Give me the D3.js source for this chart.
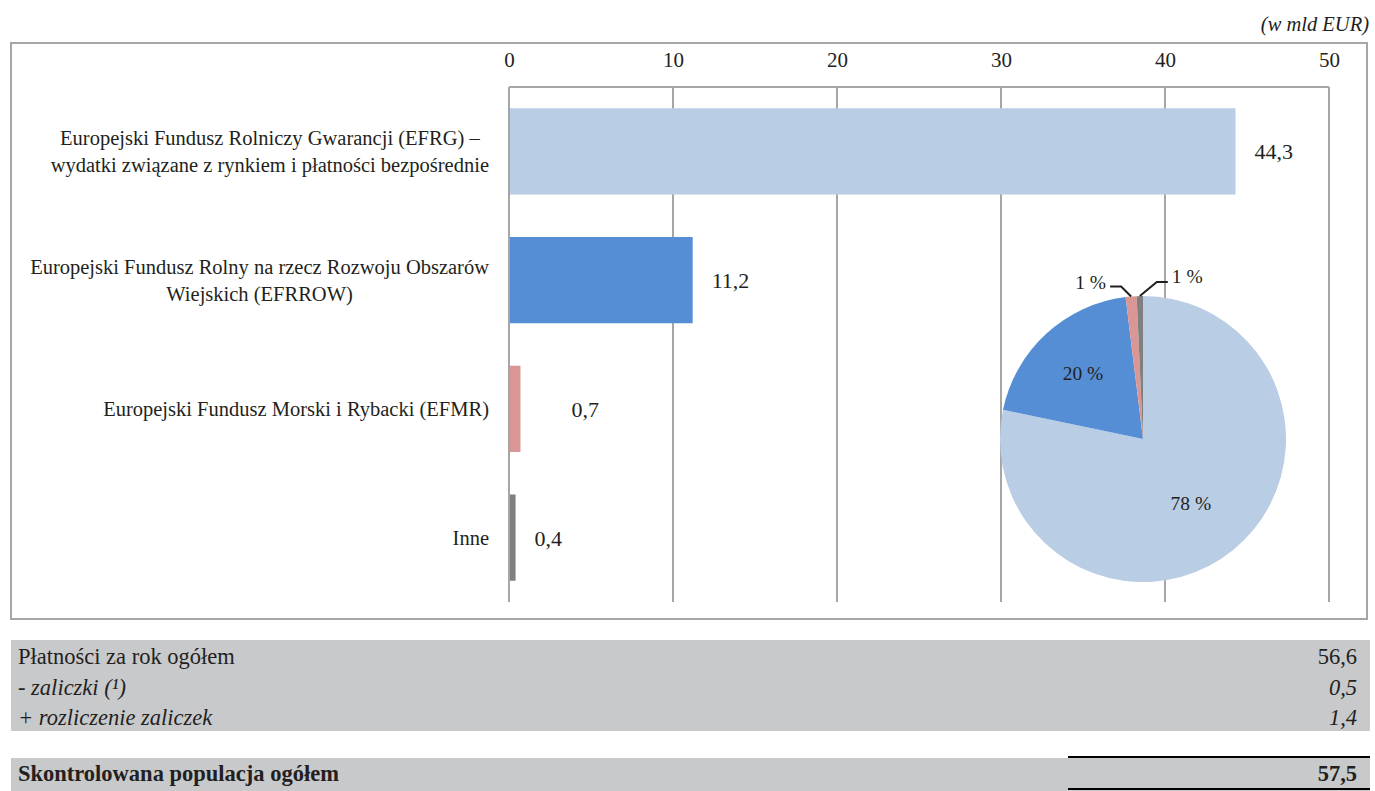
<!DOCTYPE html>
<html>
<head>
<meta charset="utf-8">
<script src="https://cdn.jsdelivr.net/npm/d3@7"></script>
<style>
  body { margin: 0; background: #fff; }
  svg text { font-family: "Liberation Serif", "DejaVu Serif", serif; fill: #231f20; }
</style>
</head>
<body>
<svg id="chart" width="1375" height="791"></svg>
<script>
// data
let categories = [
  ["Europejski Fundusz Rolniczy Gwarancji (EFRG) –", "wydatki związane z rynkiem i płatności bezpośrednie"],
  ["Europejski Fundusz Rolny na rzecz Rozwoju Obszarów", "Wiejskich (EFRROW)"],
  ["Europejski Fundusz Morski i Rybacki (EFMR)"],
  ["Inne"]
];
let values = [44.3, 11.2, 0.7, 0.4];
let pieLabels = ["78 %", "20 %", "1 %", "1 %"];
let xTicks = [0, 10, 20, 30, 40, 50];
let unitLabel = "(w mld EUR)";
let tableRows = ["Płatności za rok ogółem", "- zaliczki (¹)", "+ rozliczenie zaliczek"];
let tableValues = ["56,6", "0,5", "1,4"];
let totalLabel = "Skontrolowana populacja ogółem";
let totalValue = "57,5";

let colors = ["#b9cde5", "#558ed5", "#d99694", "#7f7f7f"];
let svg = d3.select("#chart");
let fmt = d => d3.format(".1f")(d).replace(".", ",");

// outer frame
svg.append("rect")
  .attr("x", 11).attr("y", 43).attr("width", 1356).attr("height", 576)
  .attr("fill", "none").attr("stroke", "#a6a6a6").attr("stroke-width", 2);

svg.append("text")
  .attr("x", 1369).attr("y", 31)
  .attr("text-anchor", "end")
  .attr("font-style", "italic")
  .attr("font-size", 20.5)
  .text(unitLabel);

let xScale = d3.scaleLinear().domain([0, 50]).range([509, 1329]);
let yScale = d3.scaleBand().domain(d3.range(values.length)).range([87, 602]).paddingInner(0.33).paddingOuter(0.165);

// grid
svg.selectAll("line.grid")
  .data(xTicks)
  .enter()
  .append("line")
  .attr("class", "grid")
  .attr("x1", d => xScale(d)).attr("x2", d => xScale(d))
  .attr("y1", 87).attr("y2", 602)
  .attr("stroke", "#a6a6a6").attr("stroke-width", 2);

svg.append("line")
  .attr("x1", xScale(0)).attr("x2", xScale(50))
  .attr("y1", 87).attr("y2", 87)
  .attr("stroke", "#a6a6a6").attr("stroke-width", 2);

let xAxis = d3.axisTop(xScale).tickValues(xTicks).tickSize(0).tickPadding(0);
let gx = svg.append("g")
  .attr("transform", "translate(0, 67)")
  .call(xAxis);
gx.select(".domain").remove();
gx.selectAll("text").attr("font-size", 21).attr("fill", "#231f20").attr("font-family", null);

// bars
svg.selectAll("rect.bar")
  .data(values)
  .enter()
  .append("rect")
  .attr("class", "bar")
  .attr("x", xScale(0) + 1)
  .attr("y", (d, i) => yScale(i))
  .attr("width", d => xScale(d) - xScale(0) - 1)
  .attr("height", yScale.bandwidth())
  .attr("fill", (d, i) => colors[i]);

// value labels
let labelNudge = [0, 0, 32, 0];
svg.selectAll("text.val")
  .data(values)
  .enter()
  .append("text")
  .attr("class", "val")
  .attr("x", (d, i) => xScale(d) + 19 + labelNudge[i])
  .attr("y", (d, i) => yScale(i) + yScale.bandwidth() / 2 + 8)
  .attr("font-size", 22)
  .text(d => fmt(d));

// category labels: block right aligned, lines centred
categories.forEach((lines, i) => {
  let g = svg.append("g");
  let t = g.selectAll("text").data(lines).enter().append("text")
    .attr("font-size", 20.5)
    .attr("text-anchor", "middle")
    .text(d => d);
  let w = d3.max(t.nodes(), n => n.getComputedTextLength());
  let cy = yScale(i) + yScale.bandwidth() / 2;
  let lh = 27;
  t.attr("x", 489 - w / 2)
   .attr("y", (d, j) => cy + 7 + (j - (lines.length - 1) / 2) * lh);
});

// pie
let pie = d3.pie().sort(null);
let arcs = pie(values);
let radius = 143;
let cx = 1143, cy = 439;
let arc = d3.arc().innerRadius(0).outerRadius(radius);
let pg = svg.append("g").attr("transform", `translate(${cx},${cy})`);
pg.selectAll("path")
  .data(arcs)
  .enter()
  .append("path")
  .attr("d", arc)
  .attr("fill", (d, i) => colors[i]);

// inside labels for large slices
let inArc = d3.arc().innerRadius(radius * 0.62).outerRadius(radius * 0.62);
pg.selectAll("text.pin")
  .data(arcs.slice(0, 2))
  .enter()
  .append("text")
  .attr("class", "pin")
  .attr("text-anchor", "middle")
  .attr("font-size", 19.5)
  .attr("x", (d, i) => inArc.centroid(d)[0] + (i === 0 ? -8 : 0))
  .attr("y", (d, i) => inArc.centroid(d)[1] + (i === 0 ? 2 : 6))
  .text((d, i) => pieLabels[i]);

// outside labels with leader lines for small slices
let edgeArc = d3.arc().innerRadius(radius).outerRadius(radius);
let small = arcs.slice(2);
small.forEach((d, k) => {
  let i = k + 2;
  let p0 = edgeArc.centroid(d);
  let side = k === 0 ? -1 : 1;
  let p1 = k === 0 ? [p0[0] - 10, p0[1] - 10] : [p0[0] + 17, p0[1] - 14];
  let p2 = [p1[0] + side * 11, p1[1]];
  pg.append("polyline")
    .attr("points", [p0, p1, p2].map(p => p.join(",")).join(" "))
    .attr("fill", "none").attr("stroke", "#231f20").attr("stroke-width", 2);
  pg.append("text")
    .attr("x", p2[0] + side * 4)
    .attr("y", p2[1] + (k === 0 ? 2 : 1))
    .attr("text-anchor", side < 0 ? "end" : "start")
    .attr("font-size", 19.5)
    .text(pieLabels[i]);
});

// table
let rowY = d3.scaleBand().domain(d3.range(tableRows.length)).range([642, 733]);
svg.append("rect")
  .attr("x", 11).attr("y", 640).attr("width", 1359).attr("height", 91)
  .attr("fill", "#c8c9cb");
svg.selectAll("text.row")
  .data(tableRows)
  .enter()
  .append("text")
  .attr("x", 18)
  .attr("y", (d, i) => rowY(i) + rowY.bandwidth() / 2 + 7)
  .attr("font-size", 22.5)
  .attr("font-style", (d, i) => i === 0 ? "normal" : "italic")
  .text(d => d);
svg.selectAll("text.rowv")
  .data(tableValues)
  .enter()
  .append("text")
  .attr("x", 1357)
  .attr("y", (d, i) => rowY(i) + rowY.bandwidth() / 2 + 7)
  .attr("text-anchor", "end")
  .attr("font-size", 22.5)
  .attr("font-style", (d, i) => i === 0 ? "normal" : "italic")
  .text(d => d);

svg.append("rect")
  .attr("x", 11).attr("y", 758).attr("width", 1359).attr("height", 33)
  .attr("fill", "#c8c9cb");
svg.append("text")
  .attr("x", 18).attr("y", 781)
  .attr("font-size", 22.5).attr("font-weight", "bold")
  .text(totalLabel);
svg.append("text")
  .attr("x", 1357).attr("y", 781)
  .attr("text-anchor", "end")
  .attr("font-size", 22.5).attr("font-weight", "bold")
  .text(totalValue);
[757, 789].forEach(y => {
  svg.append("line")
    .attr("x1", 1068).attr("x2", 1370)
    .attr("y1", y).attr("y2", y)
    .attr("stroke", "#000").attr("stroke-width", 2);
});
</script>
</body>
</html>
